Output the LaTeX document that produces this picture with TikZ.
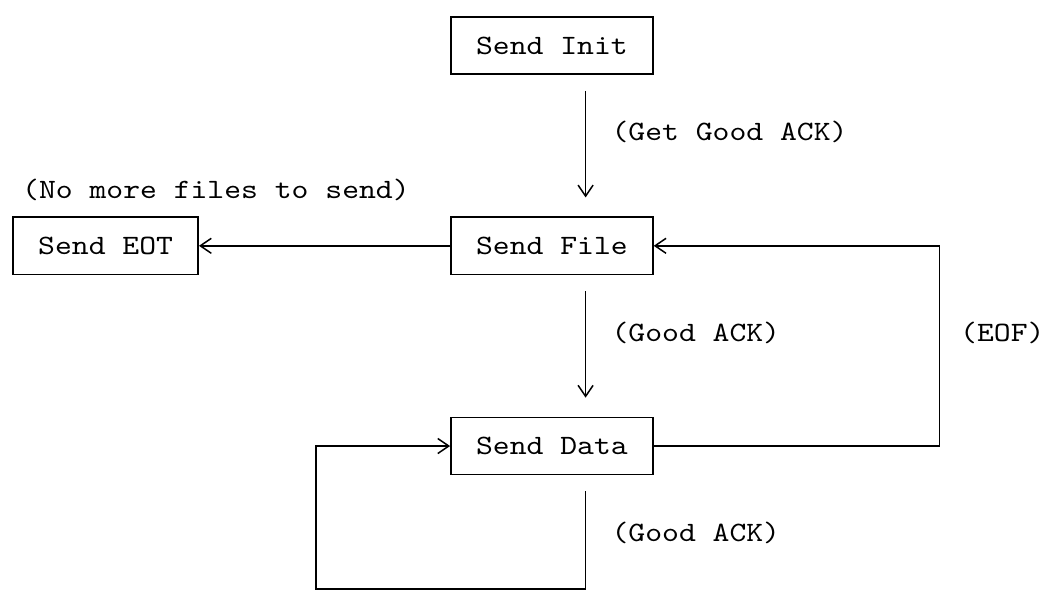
\documentclass[tikz,border=0pt]{standalone}
\usepackage{fontspec}
\setmonofont[FakeStretch=1.146]{lmmono10-regular.otf}
\usetikzlibrary{arrows.meta,calc}
\newcommand{\ttsize}{\ttfamily\fontsize{28}{30}\selectfont}
\newcommand{\sendstate}[4]{
	\node [statebox, minimum width=#4] (#1) at (#2) {#3};}
\newcommand{\steplabel}[3]{
	\node [anchor=base west, inner sep=0pt] (#1) at (#2) {#3};}

\begin{document}
\begin{tikzpicture}[x=16.84pt,y=-28.6pt,font=\ttsize,line width=1.5pt,
	statebox/.style={draw, inner sep=0pt, minimum height=57.2pt},
	sendarrow/.style={-{Straight Barb[length=11pt,width=15pt]}},
	downarrow/.style={sendarrow, shorten <=16pt, shorten >=19pt}]
	\useasboundingbox (-0.772,0.406) rectangle (61.22,21.28);
	\sendstate{init}{32,2}{Send Init}{202.1pt}
	\sendstate{file}{32,9}{Send File}{202.1pt}
	\sendstate{data}{32,16}{Send Data}{202.1pt}
	\sendstate{eot}{5.5,9}{Send EOT}{185.2pt}
	\coordinate (eofcorner) at (55,16);
	\coordinate (loopcorner) at (18,21);
	% transitions
	\draw [downarrow] ($(init.south)+(2,0)$) -- ($(file.north)+(2,0)$);
	\draw [downarrow] ($(file.south)+(2,0)$) -- ($(data.north)+(2,0)$);
	\draw [sendarrow] (file.west) -- (eot.east);
	\draw [sendarrow] (data.east) -- (eofcorner) |- (file.east);
	\draw [sendarrow, shorten <=16pt] ($(data.south)+(2,0)$) |- (loopcorner) |- (data.west);
	% labels
	\steplabel{getack}{35.5,5.33}{(Get Good ACK)}
	\steplabel{nomore}{0.5,7.33}{(No more files to send)}
	\steplabel{fileack}{35.5,12.33}{(Good ACK)}
	\steplabel{eof}{56.2,12.33}{(EOF)}
	\steplabel{dataack}{35.5,19.33}{(Good ACK)}
\end{tikzpicture}
\end{document}
